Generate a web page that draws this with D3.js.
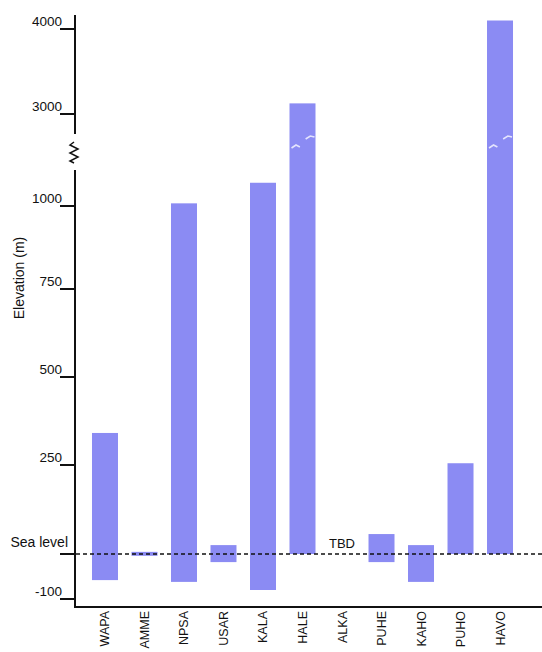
<!DOCTYPE html>
<html>
<head>
<meta charset="utf-8">
<script src="https://cdn.jsdelivr.net/npm/d3@7"></script>
<style>
  html, body { margin: 0; padding: 0; background: #fff; }
  svg text { font-family: "Liberation Sans", Arial, sans-serif; fill: #111; }
</style>
</head>
<body>
<svg id="chart" width="542" height="652"></svg>
<script>
// ---- data ----
const categories = ["WAPA", "AMME", "NPSA", "USAR", "KALA", "HALE", "ALKA", "PUHE", "KAHO", "PUHO", "HAVO"];
const minElev = [-58, -4, -62, -18, -80, 0, null, -18, -62, 0, 0];
const maxElev = [341, 6, 1008, 25, 1070, 3125, null, 56, 25, 255, 4100];
const lowerTicks = [-100, 0, 250, 500, 750, 1000];
const lowerTickLabels = ["-100", "Sea level", "250", "500", "750", "1000"];
const upperTicks = [3000, 4000];
const upperTickLabels = ["3000", "4000"];
const missingLabel = "TBD";
const yTitle = "Elevation (m)";

// ---- layout ----
const svg = d3.select("#chart");
const axisX = 75, axisBottom = 607, axisTop = 15;
const breakTop = 134, breakBottom = 170;

const x = d3.scaleBand().domain(categories).range([75, 530])
  .paddingInner(0.342).paddingOuter(0.43);

// lower (broken) axis segment: piecewise linear as drawn
const yLow = d3.scaleLinear().domain(lowerTicks).range([599, 554, 465, 377, 289, 206]);
// upper segment
const yUp = d3.scaleLinear().domain(upperTicks).range([114, 29]);
const yOf = v => (v >= 2000 ? yUp(v) : yLow(v));

const barColor = "#8b8bf3";

// bars
const data = categories.map((c, i) => ({ c, lo: minElev[i], hi: maxElev[i] }));
svg.append("g").selectAll("rect")
  .data(data.filter(d => d.lo !== null))
  .join("rect")
  .attr("x", d => x(d.c))
  .attr("width", x.bandwidth())
  .attr("y", d => yOf(d.hi))
  .attr("height", d => Math.max(2, yOf(d.lo) - yOf(d.hi)))
  .attr("fill", barColor);

// white break marks on bars that cross the axis break
const broken = data.filter(d => d.hi !== null && d.hi >= 2000);
const marks = svg.append("g").attr("stroke", "#f4f4ff").attr("stroke-width", 1.6).attr("fill", "none").attr("opacity", 0.85);
broken.forEach(d => {
  const x0 = x(d.c), w = x.bandwidth();
  marks.append("path").attr("d", `M${x0 + 2},${148} L${x0 + w * 0.25},${145} L${x0 + w * 0.4},${147}`);
  marks.append("path").attr("d", `M${x0 + w * 0.62},${139} L${x0 + w * 0.8},${136} L${x0 + w - 1},${137}`);
});

// sea level dashed line
svg.append("line")
  .attr("x1", 62).attr("x2", 542)
  .attr("y1", yLow(0)).attr("y2", yLow(0))
  .attr("stroke", "#111").attr("stroke-width", 1.6)
  .attr("stroke-dasharray", "4,3");

// y axis line with break
const ax = svg.append("g").attr("stroke", "#111").attr("stroke-width", 2).attr("fill", "none");
ax.append("line").attr("x1", axisX).attr("x2", axisX).attr("y1", axisTop).attr("y2", breakTop);
ax.append("line").attr("x1", axisX).attr("x2", axisX).attr("y1", breakBottom).attr("y2", axisBottom + 1);
ax.append("path").attr("stroke-width", 1.5)
  .attr("d", `M${axisX - 1},142 L${axisX - 5},145 L${axisX + 3},149 L${axisX - 5},153 L${axisX + 3},157 L${axisX - 5},161 L${axisX - 1},163`);

// x axis line
svg.append("line").attr("x1", axisX - 1).attr("x2", 542)
  .attr("y1", axisBottom).attr("y2", axisBottom)
  .attr("stroke", "#111").attr("stroke-width", 2.2);

// ticks
function drawTicks(scale, vals, labels) {
  const g = svg.append("g");
  vals.forEach((v, i) => {
    const yy = scale(v);
    g.append("line").attr("x1", 60).attr("x2", axisX).attr("y1", yy).attr("y2", yy)
      .attr("stroke", "#111").attr("stroke-width", 2);
    const isSea = labels[i] === "Sea level";
    g.append("text")
      .attr("x", isSea ? 68 : 62)
      .attr("y", isSea ? yy - 7 : yy - 3)
      .attr("text-anchor", "end")
      .attr("font-size", isSea ? 14 : 13.5)
      .text(labels[i]);
  });
}
drawTicks(yLow, lowerTicks, lowerTickLabels);
drawTicks(yUp, upperTicks, upperTickLabels);

// y title
svg.append("text")
  .attr("transform", `translate(24,278) rotate(-90)`)
  .attr("text-anchor", "middle")
  .attr("font-size", 14)
  .text(yTitle);

// x labels
svg.append("g").selectAll("text")
  .data(categories)
  .join("text")
  .attr("transform", d => `translate(${x(d) + x.bandwidth() / 2},611) rotate(-90)`)
  .attr("text-anchor", "end")
  .attr("dy", "0.36em")
  .attr("font-size", 12.5)
  .text(d => d);

// TBD label for missing category
data.filter(d => d.lo === null).forEach(d => {
  svg.append("text")
    .attr("x", x(d.c) + x.bandwidth() / 2)
    .attr("y", yLow(0) - 6)
    .attr("text-anchor", "middle")
    .attr("font-size", 13)
    .text(missingLabel);
});
</script>
</body>
</html>
